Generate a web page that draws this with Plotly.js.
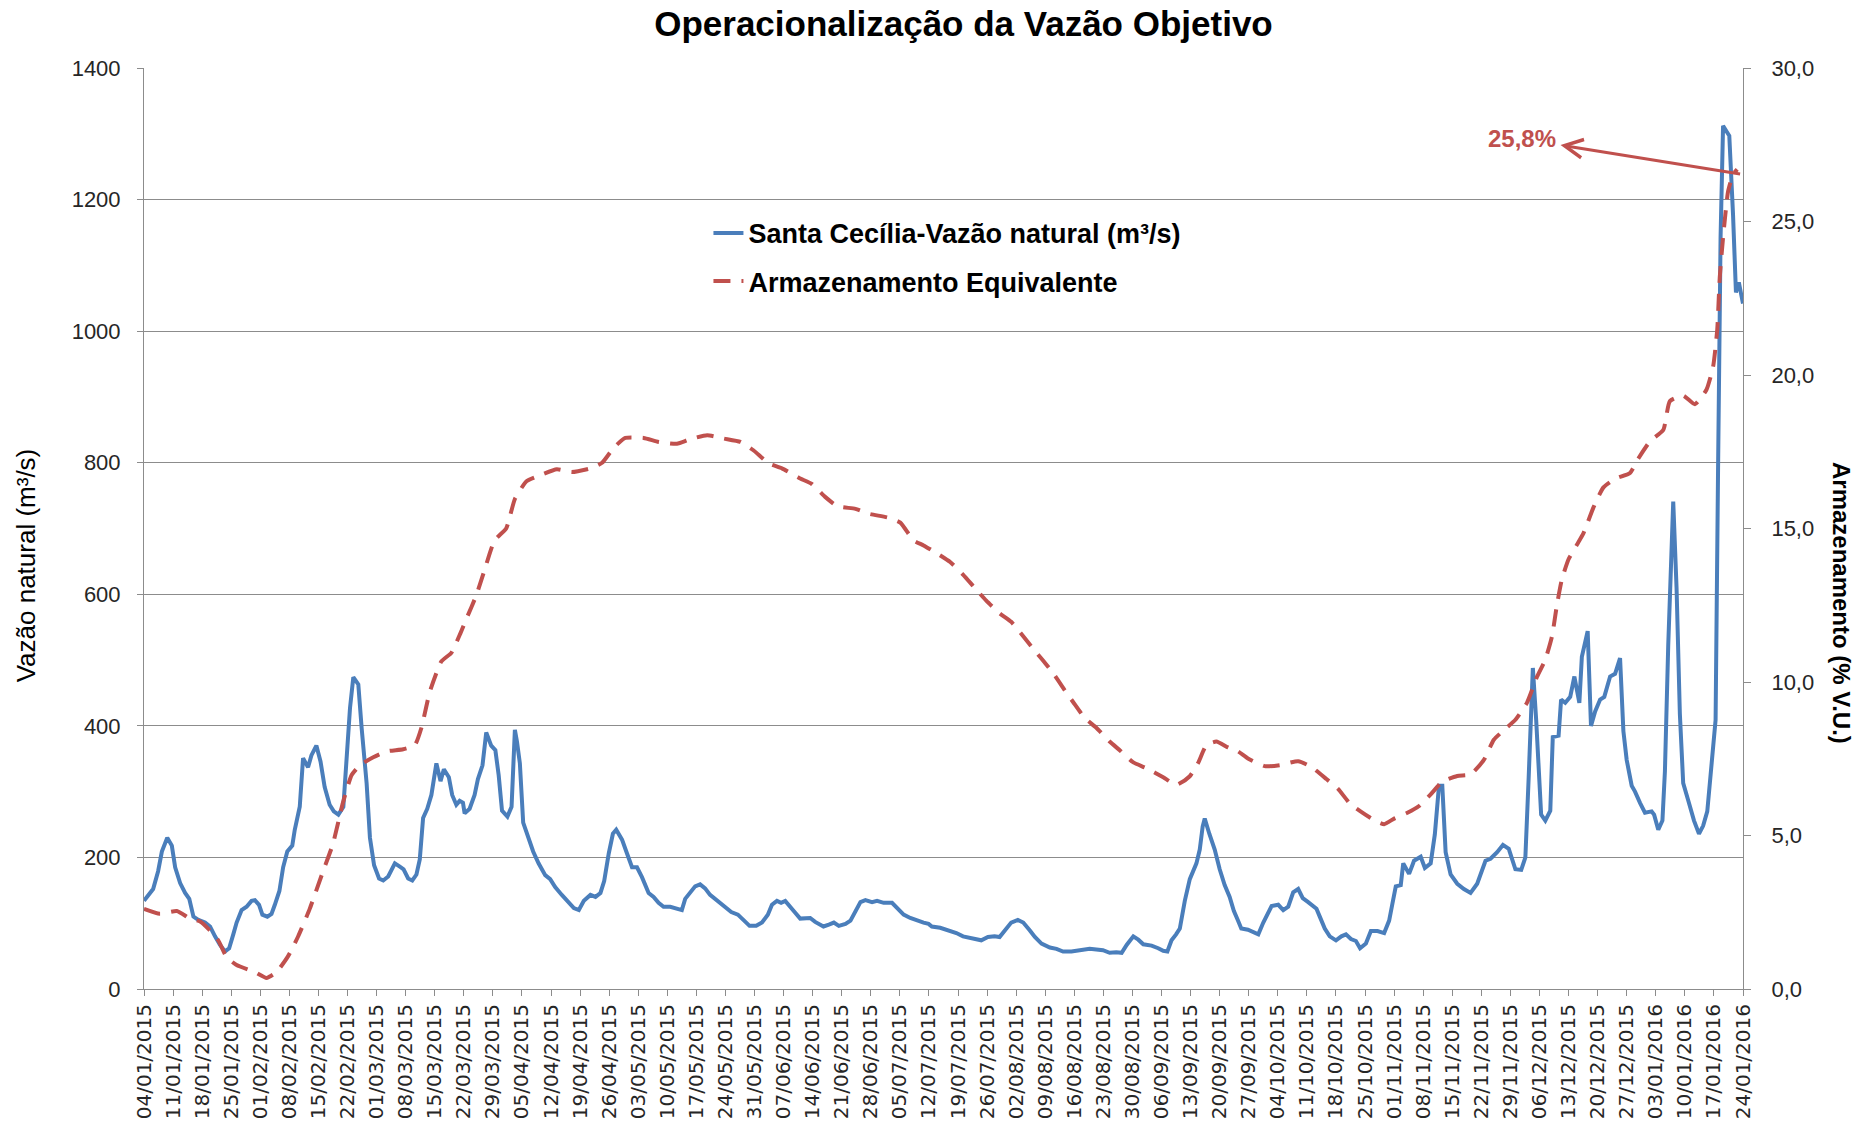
<!DOCTYPE html>
<html>
<head>
<meta charset="utf-8">
<script src="https://cdn.plot.ly/plotly-3.0.1.min.js"></script>
<style>
  html, body { margin: 0; padding: 0; background: #fff; }
  #grafico { width: 1860px; height: 1131px; }
</style>
</head>
<body>
<div id="grafico"></div>
<script>
// dias contados a partir de 04/01/2015
const inicio = Date.UTC(2015, 0, 4);
const DIA = 86400000;

// Santa Cecília - vazão natural (m³/s)
const diasVazao = [0,2.2,3.4,4.3,5.6,6.7,7.5,8.7,9.9,10.9,11.9,13.1,14.7,15.9,17.1,18.3,19.5,20.5,21.5,22.3,23.5,24.7,25.9,26.7,27.7,28.5,29.7,30.7,31.5,32.6,33.5,34.5,35.7,36.3,37.5,38.3,39.5,40.3,41.5,42.5,43.5,44.7,45.7,46.8,48,48.8,49.6,50.4,51.6,52.4,53.6,54.4,55.4,56.6,57.6,58.8,60.4,61.6,62.5,63.6,64.6,65.6,66.4,67.2,68.2,69.2,70.4,71.4,72.2,73.4,74.2,75.2,76,76.8,77.2,78.4,79.6,80.4,81.5,82.4,83.6,84.6,85.4,86.2,87.5,88.5,89.3,89.8,90.5,91.3,92.5,93.7,95,96.6,97.8,99,100.6,102.3,103.5,104.7,105.9,107.5,108.7,109.9,110.8,111.9,112.9,113.7,115.1,116.3,117.5,118.7,119.9,121.5,122.7,123.9,125.1,126.7,128.3,129.5,130.3,131.5,132.7,133.9,135.1,136.3,137.5,139.1,140.6,141.4,143,144.6,145.8,147.4,148.8,150.2,151.2,152.4,153.4,154.4,155.6,156.8,158,159.6,160.4,161.6,162.7,163.6,164.9,166.1,167.3,168.9,170.1,171.3,172.5,173.7,175.3,176.5,178.1,180.1,181.3,182.9,184.5,186.1,187.7,188.9,189.7,191.7,193.7,195.6,197.2,199.6,201.6,203.2,204.8,206,207.2,208.8,210.4,211.7,213.3,214.5,216.1,218.1,219.7,221.3,223.3,225.3,227.7,229.3,230.9,232.5,234.1,235.4,236.6,238.2,239.4,240.6,242.6,244.2,245.4,246.4,247.4,248.5,249.4,250.6,251.8,253.4,254.2,254.9,255.4,256.5,257.8,259,260.2,261.4,262.4,263.4,264.2,265.8,267,268.3,269.5,270.4,271.5,273.1,274.3,275.5,276.7,277.9,279,280.3,282.3,283.1,284.3,285.5,287,288.3,289.4,290.6,291.8,292.8,294.2,295.4,297,298.6,299.8,300.6,301.4,302.6,303.2,304.6,305.8,307.4,308.4,309.8,310.8,311.8,312.6,313.4,314.6,316.2,317.8,319.4,321,323,324.2,325.8,327.2,328.6,330.2,331.6,332.6,333.4,334.4,335.2,336.4,337.4,338.6,339.2,340.6,341.2,342.2,343.4,344.4,345.6,346.2,347.6,348.4,349.4,350.6,351.6,353,354.2,355.4,356.2,357,358.2,359,360.2,361.4,363,363.6,364.6,365.6,366.2,367,368.2,369,369.8,370.6,371.8,373.2,374.4,375.4,376.4,377.4,378.4,379,379.6,380.2,381,381.7,382.6,383.3,384,385];
const vazao = [134,152,179,209,230,218,185,161,146,137,110,105,101,95,80,67,57,62,83,101,120,125,134,135,128,113,110,114,128,149,185,209,218,242,277,351,337,355,370,346,307,280,270,265,277,349,427,474,463,397,313,230,188,168,165,171,191,186,182,168,165,174,197,260,274,295,343,316,334,322,295,280,286,283,267,274,295,319,340,390,370,363,325,271,262,277,394,376,343,253,230,209,191,173,167,155,143,131,123,120,134,143,140,146,164,206,236,242,227,206,185,185,170,146,140,131,125,125,123,120,137,146,156,159,153,143,137,129,122,117,113,102,96,96,101,113,128,134,131,134,126,116,107,107,108,102,99,95,98,101,96,99,104,119,132,135,132,134,131,131,123,113,108,104,101,99,95,93,89,85,80,77,74,79,80,79,89,101,105,101,89,79,69,63,61,57,57,59,61,60,59,55,56,55,67,80,75,68,66,62,58,57,74,83,92,134,167,191,212,247,259,236,212,182,158,140,119,104,92,90,86,83,101,113,126,128,120,125,147,152,138,132,122,110,92,80,74,80,83,76,73,62,69,88,88,85,104,130,156,158,191,175,195,201,184,191,235,309,309,208,174,160,152,146,160,195,198,208,219,213,182,181,200,322,488,409,265,256,271,383,385,440,435,444,475,435,505,544,400,422,440,444,475,479,503,392,348,309,300,283,268,270,265,242,256,331,523,741,610,418,313,287,256,236,248,270,348,409,793,1142,1312,1303,1297,1177,1059,1074,1042];

// Armazenamento equivalente (% V.U.)
const diasArmaz = [0,3.8,7.9,11.1,13.5,15.5,17.9,19.9,22.3,26.7,29.5,31.9,34.7,37.1,39.9,43.1,45.5,47.9,50,52,55.2,58.4,62.4,65.2,66.8,68.8,71.6,74,76,77.6,80,82,84.4,87.2,89.3,92.1,95.3,99.4,103,107.5,110.3,113.1,115.9,120.3,123.9,128.3,131.5,135.6,139.6,143.6,146.8,150.4,153.6,158,160.8,164,166.9,171.3,174.5,179.3,182.1,185.3,187.7,191.3,194.1,197.2,200,202.8,206,208.8,211.7,214.1,216.9,219.3,221.7,223.7,226.5,229.3,232.5,235,238.2,241.4,245.4,248.6,251.8,253.8,255.8,258.2,261,263.4,265.8,269.8,273.4,277.9,281.1,284.7,287.5,290.3,293,296.2,298.6,301,304.2,307,309.8,312.6,316.2,319.4,322.6,325,327.4,330.2,333,335.4,337.4,339,340.2,341.4,343,345,346.6,349,351.4,354.2,357.8,359.8,362.6,365.8,367.4,370.6,373.4,376.2,377.8,378.8,379.4,380.2,381.4,382.6,383.6];
const armaz = [2.61,2.45,2.54,2.29,2.20,1.96,1.58,1.04,0.78,0.55,0.36,0.55,1.07,1.71,2.61,3.83,4.73,6.07,6.97,7.29,7.55,7.74,7.81,7.94,8.51,9.67,10.67,10.95,11.53,12.05,12.82,13.65,14.61,15.0,15.96,16.54,16.73,16.93,16.84,16.96,17.14,17.63,17.95,17.95,17.82,17.76,17.91,18.04,17.93,17.82,17.54,17.12,16.96,16.63,16.45,16.03,15.73,15.64,15.48,15.35,15.19,14.61,14.45,14.16,13.91,13.50,13.07,12.65,12.24,11.96,11.49,11.08,10.63,10.21,9.73,9.35,8.83,8.51,8.06,7.77,7.38,7.19,6.90,6.65,6.93,7.36,7.94,8.06,7.87,7.74,7.51,7.26,7.29,7.42,7.23,6.84,6.52,6.05,5.78,5.50,5.37,5.55,5.74,5.96,6.34,6.75,6.94,6.99,7.46,8.12,8.43,8.77,9.33,10.17,10.73,11.48,12.51,13.35,14.0,14.47,14.85,15.69,16.34,16.62,16.81,17.28,17.84,18.21,19.15,19.33,19.05,19.52,20.27,21.48,23.17,24.48,25.97,26.53,26.7];

const nomes = ['Santa Cecília-Vazão natural (m³/s)', 'Armazenamento Equivalente'];
const rotuloFinal = '25,8%';

const azul = '#4A7EBB';
const vermelho = '#C0504D';
const cinza = '#8c8c8c';
const texto = '#262626';
const fonte = 'Liberation Sans, Arial, sans-serif';

function paraData(d) { return inicio + d * DIA; }

const trVazao = {
    type: 'scatter', mode: 'lines',
    name: nomes[0], legendgroup: 'a',
    x: diasVazao.map(paraData), y: vazao,
    line: { color: azul, width: 4 },
    hoverinfo: 'skip'
};

const trArmaz = {
    type: 'scatter', mode: 'lines',
    name: nomes[1], legendgroup: 'b',
    x: diasArmaz.map(paraData), y: armaz, yaxis: 'y2',
    line: { color: vermelho, width: 4, dash: '17px,11px', shape: 'spline', smoothing: 0.5 },
    hoverinfo: 'skip'
};

const fonteEixo = { family: fonte, size: 22, color: texto };

const layout = {
    width: 1860, height: 1131,
    paper_bgcolor: '#fff', plot_bgcolor: '#fff',
    margin: { l: 144, r: 117, t: 68, b: 142 },
    separators: ',.',
    title: {
        text: '<b>Operacionalização da Vazão Objetivo</b>',
        font: { family: fonte, size: 35, color: '#000' },
        xref: 'container', yref: 'container',
        x: 0.518, xanchor: 'center', y: 0.979, yanchor: 'middle'
    },
    showlegend: true,
    legend: {
        x: 0.353, y: 0.847, xanchor: 'left', yanchor: 'top',
        bgcolor: 'rgba(0,0,0,0)',
        font: { family: fonte, size: 27, color: '#000', weight: 'bold' },
        traceorder: 'grouped', tracegroupgap: 10
    },
    xaxis: {
        type: 'date',
        range: ['2015-01-04', '2016-01-24'],
        tickmode: 'linear', tick0: '2015-01-04', dtick: 7 * DIA,
        tickformat: '%d/%m/%Y', tickangle: -90,
        tickfont: { family: 'DejaVu Sans, Verdana, sans-serif', size: 20, color: texto },
        ticks: 'outside', ticklen: 6, tickcolor: cinza,
        showline: true, linecolor: cinza, linewidth: 1,
        showgrid: false, zeroline: false
    },
    yaxis: {
        range: [0, 1400], dtick: 200, tickformat: 'd',
        tickfont: fonteEixo, ticklabelstandoff: 12,
        ticks: 'outside', ticklen: 6, tickcolor: cinza,
        showline: true, linecolor: cinza, linewidth: 1,
        showgrid: true, gridcolor: cinza, gridwidth: 1,
        zeroline: false
    },
    yaxis2: {
        overlaying: 'y', side: 'right',
        range: [0, 30], dtick: 5, tickformat: '.1f',
        tickfont: fonteEixo, ticklabelstandoff: 16,
        ticks: 'outside', ticklen: 7, tickcolor: cinza,
        showline: true, linecolor: cinza, linewidth: 1,
        showgrid: false, zeroline: false
    },
    annotations: [
        {
            // titulo do eixo principal
            xref: 'paper', yref: 'paper', x: -0.0738, y: 0.46,
            xanchor: 'center', yanchor: 'middle',
            text: 'Vazão natural (m³/s)', textangle: -90,
            showarrow: false,
            font: { family: fonte, size: 26, color: '#000' }
        },
        {
            // titulo do eixo secundario, lido de cima para baixo
            xref: 'paper', yref: 'paper', x: 1.062, y: 0.419,
            xanchor: 'center', yanchor: 'middle',
            text: '<b>Armazenamento (% V.U.)</b>', textangle: 90,
            showarrow: false,
            font: { family: fonte, size: 24, color: '#000' }
        },
        {
            x: paraData(384.3), y: 26.55, xref: 'x', yref: 'y2',
            text: '<b>' + rotuloFinal + '</b>',
            font: { family: fonte, size: 24, color: vermelho },
            showarrow: true, arrowside: 'start',
            startarrowhead: 5, startarrowsize: 1.2,
            arrowwidth: 3, arrowcolor: vermelho,
            ax: -218, ay: -35, borderpad: 0, startstandoff: 4
        }
    ]
};

Plotly.newPlot('grafico', [trVazao, trArmaz], layout, { staticPlot: true });
</script>
</body>
</html>
